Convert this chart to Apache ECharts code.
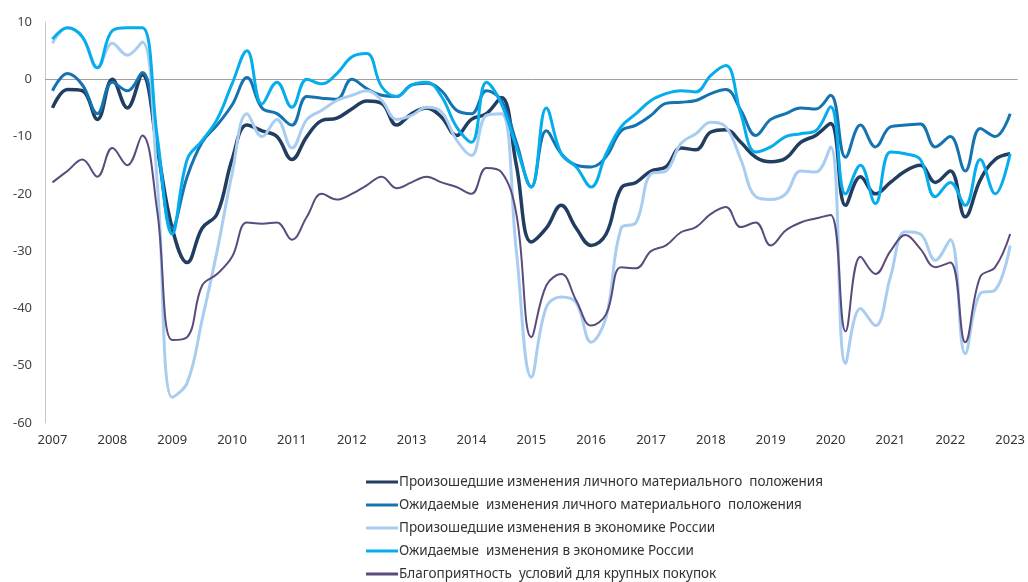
<!DOCTYPE html>
<html>
<head>
<meta charset="utf-8">
<script src="https://cdn.jsdelivr.net/npm/echarts@6/dist/echarts.min.js"></script>
<style>
  html, body { margin: 0; padding: 0; background: #fff; }
  #chart { width: 1028px; height: 582px; }
</style>
</head>
<body>
<div id="chart"></div>
<script>
// годы (подписи оси X), данные поквартально с I кв. 2007 по I кв. 2023
var years = ['2007', '2008', '2009', '2010', '2011', '2012', '2013', '2014', '2015',
  '2016', '2017', '2018', '2019', '2020', '2021', '2022', '2023']

var yTicks = [10, 0, -10, -20, -30, -40, -50, -60]

var seriesNames = [
  'Произошедшие изменения личного материального  положения',
  'Ожидаемые  изменения личного материального  положения',
  'Произошедшие изменения в экономике России',
  'Ожидаемые  изменения в экономике России',
  'Благоприятность  условий для крупных покупок'
]

var personalPast = [-5, -1.8, -2, -7, 0, -5, 0.8, -12, -26, -32, -26, -23.5, -14, -8, -9, -10,
  -14, -10, -7.2, -6.8, -5.2, -3.8, -4.2, -8, -6, -5, -6.6, -9.8, -7, -6, -3.2, -15,
  -28.4, -26, -22, -26, -29, -27, -19, -18, -16, -15.3, -12, -12.3, -9.2, -8.8, -11, -13.6,
  -14.4, -13.8, -11, -9.8, -7.7, -22, -17, -20, -18, -16, -15, -18, -16, -24, -17.6, -14, -13]

var personalExp = [-2, 1, -1, -6, -0.5, -2, 1.2, -12, -26, -17, -11, -8, -4.5, 0.3, -5, -6,
  -8, -3, -3.3, -3.5, 0, -1.6, -2.8, -3, -1, -0.7, -2, -5.4, -6, -2, -3.7, -11,
  -18.8, -9, -13, -15, -15.3, -13.5, -9, -8, -6.3, -4.2, -4, -3.7, -2.5, -1.8, -5.4, -9.8,
  -7, -6, -5, -5.2, -2.8, -13.6, -8, -11.8, -8.3, -8, -7.8, -11.8, -10, -16, -8.6, -10, -6]

var economyPast = [6.3, 9, 7.3, 2, 6.3, 4.2, 6.5, -18, -55.5, -53, -42, -30, -16.5, -6, -10, -7,
  -12, -7, -5.4, -3.7, -2.8, -2, -3.7, -7, -6.3, -4.9, -5.7, -10.6, -13.3, -6.3, -6, -30,
  -52, -39.8, -38, -39, -45.9, -41.5, -26, -25, -16.5, -16, -11.2, -9.5, -7.5, -8.3, -14, -20.5,
  -21, -20, -16, -16.2, -11.8, -49.6, -40, -43, -34.5, -26.6, -27, -31.6, -28, -47.9, -37.4, -36.8, -29]

var economyExp = [7, 9, 7.4, 2, 8.5, 9, 9, -10, -27, -14, -10.7, -7, -0.8, 5, -4.3, -0.5,
  -4.9, 0, -0.8, 1, 3.9, 4.5, -1.3, -3, -1, -0.5, -3, -8.3, -11, -0.5, -4.3, -11.8,
  -18.8, -5, -13, -15.3, -18.8, -13, -8.3, -6, -3.7, -2.5, -2, -2.2, 0.7, 2.4, -6, -12.7,
  -11.8, -10, -9.5, -9, -4.8, -20, -15, -21.7, -12.7, -13, -14, -20.5, -18, -22, -14, -20, -13]

var purchases = [-18, -16, -14, -17, -12, -15, -9.8, -23, -45.5, -45, -36, -34, -31, -25, -25.2, -25,
  -28, -24, -20, -21, -20, -18.5, -17, -19, -18, -17, -18, -18.8, -20, -15.5, -16.2, -23.5,
  -45, -36, -34, -38.6, -43, -41, -32.8, -33, -30, -29, -26.7, -25.8, -23.5, -22.3, -25.8, -25,
  -29, -26.4, -25, -24.3, -23.7, -44, -31, -34, -30, -27.2, -29.6, -32.8, -32, -45.9, -34.5, -32.8, -27]

var colors = ['#213d5f', '#1574b0', '#a8cdf0', '#05aded', '#5b4a7c']
var widths = [3.5, 3, 3, 3, 2]

var categories = []
years.forEach(function (y) {
  for (var q = 1; q <= 4; q++) {
    if (y === '2023' && q > 1) break
    categories.push(y + '-' + q)
  }
})

var chart = echarts.init(document.getElementById('chart'))
var font = 'Noto Sans'

var allData = [personalPast, personalExp, economyPast, economyExp, purchases]
var series = allData.map(function (d, i) {
  var s = {
    name: seriesNames[i],
    type: 'line',
    data: d,
    smooth: 0.4,
    symbol: 'none',
    lineStyle: { width: widths[i], color: colors[i] },
    itemStyle: { color: colors[i] },
    z: 3
  }
  if (i === 0) {
    // линия нуля
    s.markLine = {
      silent: true,
      symbol: 'none',
      label: { show: false },
      lineStyle: { color: '#a0a0a0', width: 1, type: 'solid' },
      data: [{ yAxis: 0 }],
      z: 1
    }
  }
  return s
})

chart.setOption({
  animation: false,
  color: colors,
  grid: {
    left: 45,
    right: 8,
    top: 22,
    bottom: 159
  },
  legend: {
    orient: 'vertical',
    left: 366,
    top: 475,
    padding: 0,
    icon: 'rect',
    itemWidth: 32,
    itemHeight: 3,
    itemGap: 9,
    textStyle: {
      fontFamily: font,
      fontSize: 13.5,
      color: '#333',
      lineHeight: 14,
      padding: [0, 0, 0, -4]
    },
    data: seriesNames
  },
  xAxis: {
    type: 'category',
    data: categories,
    boundaryGap: true,
    axisLine: { show: false },
    axisTick: { show: false },
    axisLabel: {
      interval: 3,
      margin: 11,
      fontFamily: font,
      fontSize: 13,
      color: '#333',
      formatter: function (v) { return v.slice(0, 4) }
    },
    splitLine: { show: false }
  },
  yAxis: {
    type: 'value',
    min: yTicks[yTicks.length - 1],
    max: yTicks[0],
    interval: 10,
    axisLine: { show: true, lineStyle: { color: '#c8c8c8', width: 1 } },
    axisTick: { show: false },
    splitLine: { show: false },
    axisLabel: {
      margin: 13,
      fontFamily: font,
      fontSize: 13,
      color: '#444'
    }
  },
  series: series
})
</script>
</body>
</html>
